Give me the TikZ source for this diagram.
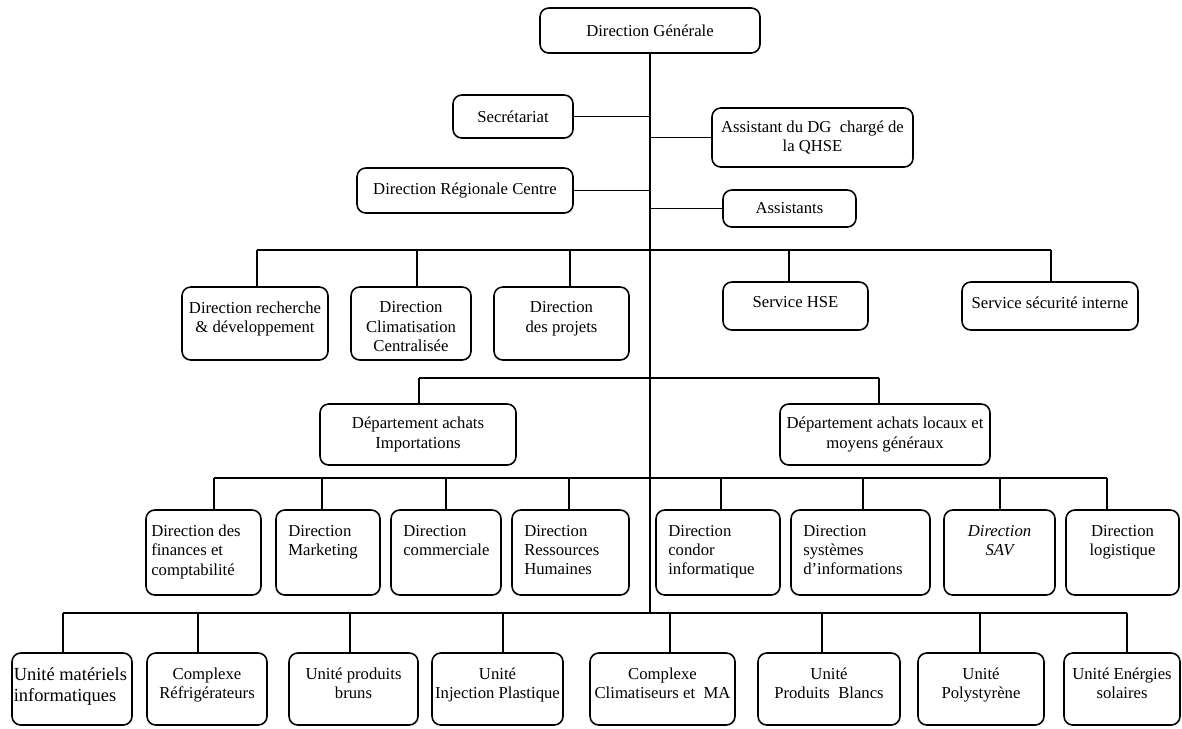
\documentclass[tikz,border=0pt]{standalone}
\usepackage{fontspec}
\setmainfont{Liberation Serif}
\usepackage{tikz}
\usetikzlibrary{positioning}

\newlength{\px}
\setlength{\px}{0.02cm}
% text at the top of a box / text in the middle of a box
\newcommand{\topcell}[3]{\parbox[c][#2\px][t]{#1\px}{\vspace*{8.5pt}#3}}
\newcommand{\midcell}[3]{\parbox[c][#2\px][c]{#1\px}{#3}}
\newcommand{\lft}{\raggedright\leftskip=7pt}

\begin{document}
\begin{tikzpicture}
  [x=0.02cm,y=-0.02cm,
   every node/.style={draw, rounded corners=5pt, inner sep=0pt, line width=0.9pt, font=\fontsize{9.5}{11}\selectfont},
   link/.style={line width=0.8pt}]
  \useasboundingbox (0,0) rectangle (1182,728);

  % top
  \node (dg) at (650,30.5) {\midcell{220}{45}{\centering Direction Générale}};
  \node (sec) at (513,116.5) {\midcell{120}{43}{\centering Secrétariat}};
  \node (qhse) at (812.5,137.5) {\midcell{201}{59}{\centering Assistant du DG\ \ chargé de\\ la QHSE}};
  \node (drc) at (465,190.5) {\midcell{216}{45}{\centering Direction Régionale Centre}};
  \node (ast) at (789.5,208.5) {\midcell{133}{37}{\centering Assistants}};

  % row 1
  \node (rd) at (255,323.5) {\topcell{146}{73}{\centering Direction recherche\\ \& développement}};
  \node (clim) at (411,323.5) {\topcell{120}{73}{\centering Direction\\ Climatisation\\ Centralisée}};
  \node (proj) at (561.5,323.5) {\topcell{135}{73}{\centering Direction\\ des projets}};
  \node (hse) at (795.5,306) {\topcell{145}{48}{\centering Service HSE}};
  \node (secu) at (1050,306) {\topcell{176}{48}{\centering Service sécurité interne}};

  % row 2
  \node (dai) at (418,434.5) {\midcell{196}{61}{\centering Département achats\\ Importations}};
  \node (dal) at (885,434.5) {\midcell{210}{61}{\centering Département achats locaux et\\ moyens généraux}};

  % row 3
  \node (fin) at (203.5,552.5) {\topcell{115}{85}{\raggedright\leftskip=3pt Direction des\\ finances et\\ comptabilité}};
  \node (mkt) at (328,552.5) {\topcell{104}{85}{\lft Direction\\ Marketing}};
  \node (com) at (446,552.5) {\topcell{110}{85}{\lft Direction\\ commerciale}};
  \node (rh) at (570.5,552.5) {\topcell{117}{85}{\lft Direction\\ Ressources\\ Humaines}};
  \node (condor) at (718,552.5) {\topcell{124}{85}{\lft Direction\\ condor\\ informatique}};
  \node (si) at (860.5,552.5) {\topcell{139}{85}{\lft Direction\\ systèmes\\ d’informations}};
  \node (sav) at (999.5,552.5) {\topcell{111}{85}{\centering\itshape Direction\\ SAV}};
  \node (logi) at (1122.5,552.5) {\topcell{113}{85}{\centering Direction\\ logistique}};

  % row 4
  \node (umi) at (72,689) {\topcell{120}{72}{\fontsize{10.5}{12}\selectfont\raggedright\leftskip=1pt Unité matériels\\ informatiques}};
  \node (cref) at (207,689) {\topcell{120}{72}{\centering Complexe\\ Réfrigérateurs}};
  \node (ubr) at (353.5,689) {\topcell{129}{72}{\centering Unité produits\\ bruns}};
  \node (uip) at (497.5,689) {\topcell{131}{72}{\centering Unité\\ Injection Plastique}};
  \node (ccl) at (662.5,689) {\topcell{145}{72}{\centering Complexe\\ Climatiseurs et\ \ MA}};
  \node (upb) at (829,689) {\topcell{142}{72}{\centering Unité\\ Produits\ \ Blancs}};
  \node (ups) at (981,689) {\topcell{126}{72}{\centering Unité\\ Polystyrène}};
  \node (ues) at (1122,689) {\topcell{116}{72}{\centering Unité Enérgies\\ solaires}};

  % bus lines
  \coordinate (b1) at (257,250);  \coordinate (b1e) at (1051,250);
  \coordinate (b2) at (419,378);  \coordinate (b2e) at (879,378);
  \coordinate (b3) at (214,478);  \coordinate (b3e) at (1107,478);
  \coordinate (b4) at (63,613);   \coordinate (b4e) at (1127,613);
  \foreach \from/\to in {b1/b1e, b2/b2e, b3/b3e, b4/b4e}
    \draw[link] (\from) -- (\to);

  \draw[link] (dg.south) -- (dg.south |- b4);
  \foreach \n in {sec, drc}
    \draw[link] (\n.east) -- (\n.east -| dg.south);
  \foreach \n in {qhse, ast}
    \draw[link] (\n.west) -- (\n.west -| dg.south);

  \foreach \n/\xd in {rd/257, clim/417, proj/570, hse/789, secu/1051}
    \draw[link] (\n.north -| \xd,0) -- (\xd,0 |- b1);
  \foreach \n/\xd in {dai/419, dal/879}
    \draw[link] (\n.north -| \xd,0) -- (\xd,0 |- b2);
  \foreach \n/\xd in {fin/214, mkt/322, com/446, rh/569, condor/721, si/863, sav/1000, logi/1107}
    \draw[link] (\n.north -| \xd,0) -- (\xd,0 |- b3);
  \foreach \n/\xd in {umi/63, cref/198, ubr/350, uip/503, ccl/670, upb/822, ups/980, ues/1127}
    \draw[link] (\n.north -| \xd,0) -- (\xd,0 |- b4);
\end{tikzpicture}
\end{document}
